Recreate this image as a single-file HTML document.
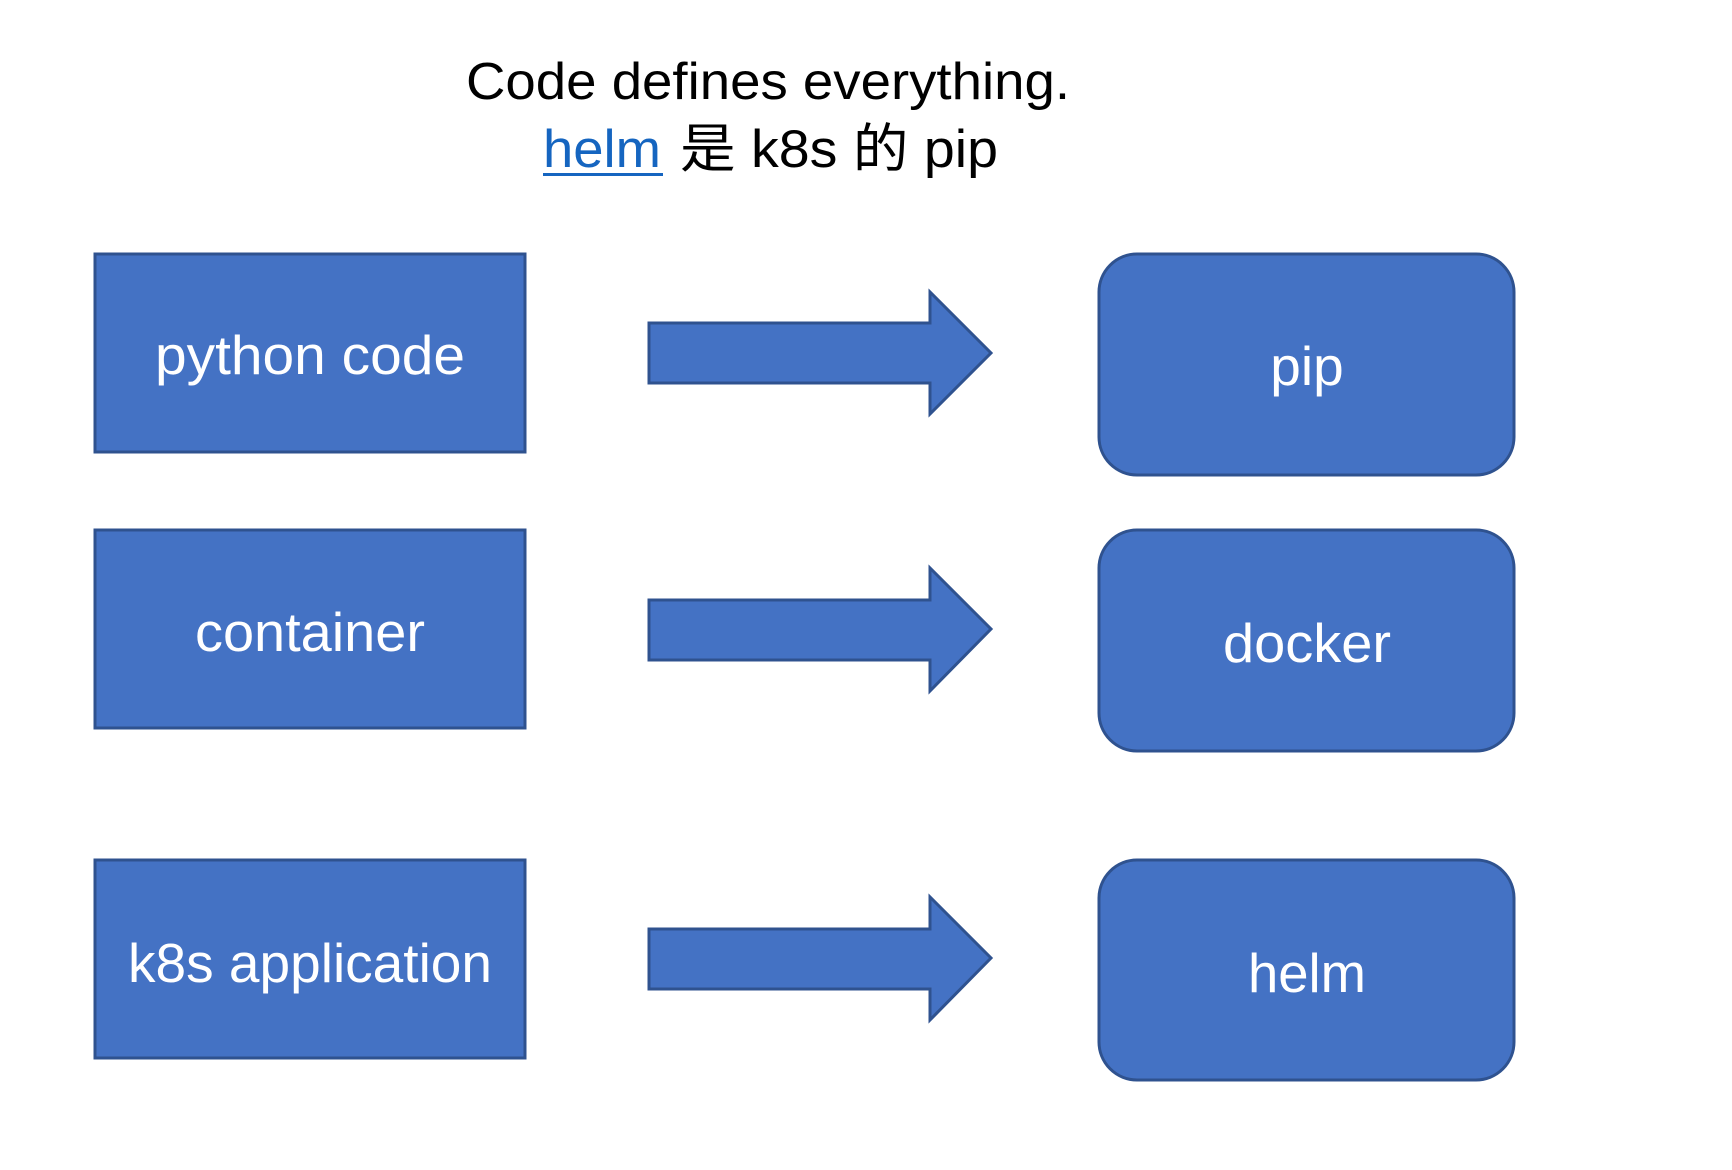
<!DOCTYPE html>
<html><head><meta charset="utf-8"><style>html,body{margin:0;padding:0;background:#fff}</style></head>
<body>
<svg width="1732" height="1170" viewBox="0 0 1732 1170" xmlns="http://www.w3.org/2000/svg" style="display:block">
<g font-family="Liberation Sans, Noto Sans CJK SC, sans-serif">
<text x="768" y="99" font-size="52" text-anchor="middle" fill="#000" textLength="604" lengthAdjust="spacingAndGlyphs">Code defines everything.</text>
<text x="543" y="167" font-size="53" fill="#1565c0" textLength="118" lengthAdjust="spacingAndGlyphs">helm</text>
<rect x="543" y="173" width="120" height="3" fill="#1565c0"/>
<text x="680" y="167" font-size="53" fill="#000" textLength="318" lengthAdjust="spacingAndGlyphs">是 k8s 的 pip</text>
</g>
<g fill="#4472c4" stroke="#2f528f" stroke-width="3">
<rect x="95" y="254" width="430" height="198"/>
<rect x="95" y="530" width="430" height="198"/>
<rect x="95" y="860" width="430" height="198"/>
<rect x="1099" y="254" width="415" height="221" rx="38"/>
<rect x="1099" y="530" width="415" height="221" rx="38"/>
<rect x="1099" y="860" width="415" height="220" rx="38"/>
<polygon points="649,323 930,323 930,292 991,353 930,414 930,383 649,383"/>
<polygon points="649,600 930,600 930,568 991,629 930,691 930,660 649,660"/>
<polygon points="649,929 930,929 930,897 991,958 930,1020 930,989 649,989"/>
</g>
<g font-family="Liberation Sans, sans-serif" font-size="55" fill="#fff" text-anchor="middle">
<text x="310" y="374" textLength="310" lengthAdjust="spacingAndGlyphs">python code</text>
<text x="310" y="651" textLength="230" lengthAdjust="spacingAndGlyphs">container</text>
<text x="310" y="982" textLength="364" lengthAdjust="spacingAndGlyphs">k8s application</text>
<text x="1307" y="385">pip</text>
<text x="1307" y="662" textLength="168" lengthAdjust="spacingAndGlyphs">docker</text>
<text x="1307" y="992" textLength="118" lengthAdjust="spacingAndGlyphs">helm</text>
</g>
</svg>
</body></html>
